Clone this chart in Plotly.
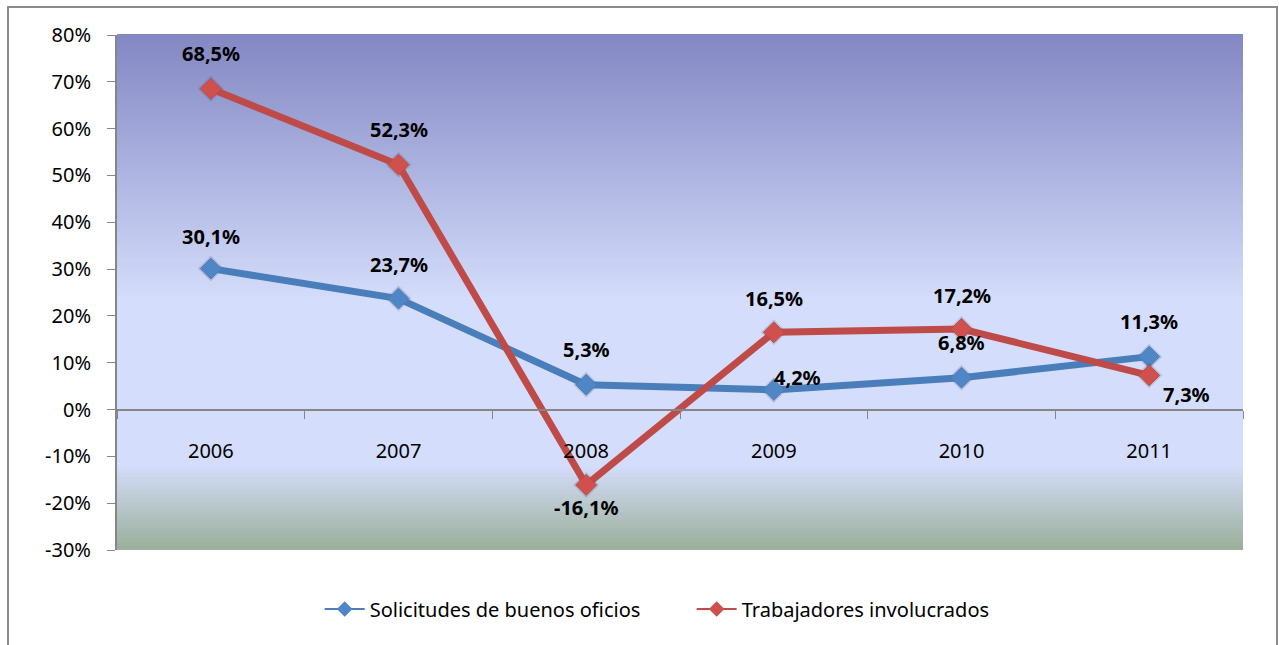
import plotly.graph_objects as go

# Data
years = ["2006", "2007", "2008", "2009", "2010", "2011"]
solicitudes = [30.1, 23.7, 5.3, 4.2, 6.8, 11.3]
trabajadores = [68.5, 52.3, -16.1, 16.5, 17.2, 7.3]
y_ticks = [80, 70, 60, 50, 40, 30, 20, 10, 0, -10, -20, -30]

BLUE = "#4A7EBB"
RED = "#BE4B48"
FONT = "Noto Sans"


def hex_rgb(h):
    h = h.lstrip("#")
    return tuple(int(h[i:i + 2], 16) for i in (0, 2, 4))


def gradient_color(t, stops):
    for (p0, c0), (p1, c1) in zip(stops, stops[1:]):
        if p0 <= t <= p1:
            f = (t - p0) / (p1 - p0) if p1 > p0 else 0
            a, b = hex_rgb(c0), hex_rgb(c1)
            return "rgb({},{},{})".format(*[round(a[i] + (b[i] - a[i]) * f) for i in range(3)])
    return stops[-1][1]


fig = go.Figure()

# Background gradient (bottom -> top)
stops = [(0.0, "#9AAF98"), (0.165, "#D4DDFB"), (0.485, "#D4DDFB"), (1.0, "#8387C3")]
n = 120
for i in range(n):
    t0, t1 = i / n, (i + 1) / n
    fig.add_shape(
        type="rect", xref="paper", yref="paper",
        x0=0, x1=1, y0=t0, y1=t1 + 0.002,
        fillcolor=gradient_color((t0 + t1) / 2, stops),
        line=dict(width=0), layer="below",
    )

# Outer chart border
fig.add_shape(
    type="rect", xref="paper", yref="paper",
    x0=-0.0968, x1=1.0302, y0=-0.2, y1=1.0544,
    line=dict(color="#8C8C8C", width=2), fillcolor="rgba(0,0,0,0)", layer="below",
)

series = [
    ("Solicitudes de buenos oficios", solicitudes, BLUE, "#4F86C6"),
    ("Trabajadores involucrados", trabajadores, RED, "#D0504D"),
]

for name, vals, line_col, marker_col in series:
    # soft shadow under markers
    fig.add_trace(go.Scatter(
        x=years, y=vals, mode="markers", showlegend=False, hoverinfo="skip",
        marker=dict(symbol="diamond", size=20, color="rgba(60,60,80,0.18)",
                    line=dict(width=0)),
    ))
    fig.add_trace(go.Scatter(
        x=years, y=vals, name=name, mode="lines+markers", showlegend=False,
        line=dict(color=line_col, width=7),
        marker=dict(symbol="diamond", size=16, color=marker_col,
                    line=dict(width=1, color=line_col)),
    ))
    # legend entry with thin line, like the original
    fig.add_trace(go.Scatter(
        x=[None], y=[None], name=name, mode="lines+markers",
        line=dict(color=line_col, width=2),
        marker=dict(symbol="diamond", size=12, color=marker_col),
    ))

# Data label offsets (pixels) per point
blue_shift = [(0, 32), (0, 34), (0, 35), (24, 12), (0, 35), (0, 35)]
red_shift = [(0, 35), (0, 35), (0, -23), (0, 34), (0, 34), (37, -19)]

for vals, shifts in [(solicitudes, blue_shift), (trabajadores, red_shift)]:
    for i, (v, (dx, dy)) in enumerate(zip(vals, shifts)):
        fig.add_annotation(
            x=i, y=v, text="<b>" + f"{v:.1f}%".replace(".", ",") + "</b>",
            showarrow=False, xshift=dx, yshift=dy,
            font=dict(family=FONT, size=20, color="#000000"),
        )

fig.update_layout(
    width=1279, height=645,
    margin=dict(l=117, r=36, t=35, b=95),
    paper_bgcolor="white", plot_bgcolor="rgba(0,0,0,0)",
    font=dict(family=FONT, size=20, color="#000000"),
    showlegend=True,
    legend=dict(
        orientation="h", x=0.180, xanchor="left", y=-0.1146, yanchor="middle",
        font=dict(family=FONT, size=20), bgcolor="rgba(0,0,0,0)",
        entrywidth=317, itemwidth=40,
    ),
    xaxis=dict(
        type="category", range=[-0.5, 5.5], anchor="free", position=0.2718,
        showline=True, linecolor="#868686", linewidth=2,
        ticks="outside", tickson="boundaries", ticklen=8, tickcolor="#868686",
        showgrid=False, zeroline=False, ticklabelstandoff=23,
        tickfont=dict(family=FONT, size=20),
    ),
    yaxis=dict(
        range=[-30, 80], tickvals=y_ticks, ticktext=[f"{t}%" for t in y_ticks],
        showline=True, linecolor="#868686", linewidth=2,
        ticks="outside", ticklen=8, tickcolor="#868686",
        showgrid=False, zeroline=False, ticklabelstandoff=12,
        tickfont=dict(family=FONT, size=20),
    ),
)

fig.write_html(
    "out.html",
    config={"displayModeBar": False},
    post_script="document.body.style.margin='0';",
)
